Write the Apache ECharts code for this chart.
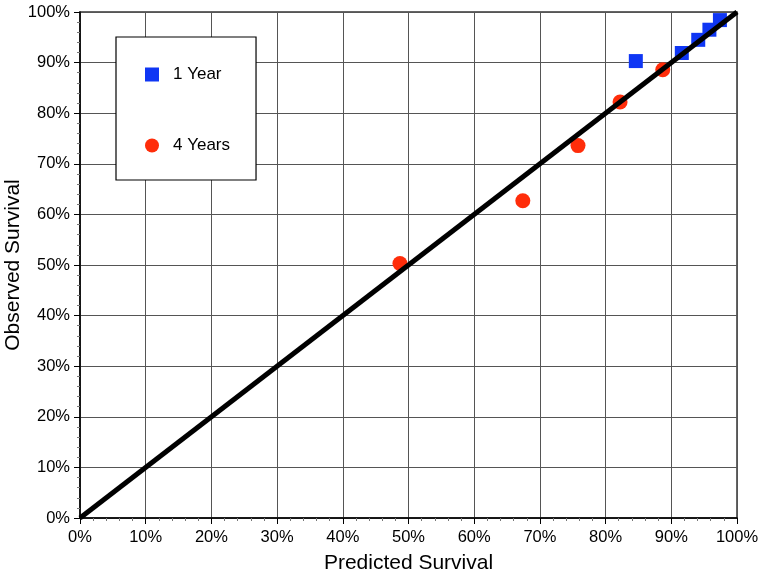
<!DOCTYPE html>
<html>
<head>
<meta charset="utf-8">
<script src="https://cdn.jsdelivr.net/npm/echarts@6/dist/echarts.min.js"></script>
<style>html,body{margin:0;padding:0;background:#fff;}#c{width:764px;height:575px;}</style>
</head>
<body>
<div id="c"></div>
<script>
var oneYear = [[84.6, 90.3], [91.6, 91.9], [94.1, 94.5], [95.8, 96.5], [97.4, 98.4]];
var fourYears = [[48.7, 50.3], [67.4, 62.7], [75.8, 73.6], [82.2, 82.2], [88.7, 88.6]];
var identity = [[0, 0], [100, 100]];
var seriesNames = ['1 Year', '4 Years'];
var xTitle = 'Predicted Survival';
var yTitle = 'Observed Survival';

var font = 'Liberation Sans, Arial, Helvetica, sans-serif';
function axis(name, gap, labelMargin) {
  return {
    type: 'value', min: 0, max: 100, interval: 10,
    name: name, nameLocation: 'middle', nameGap: gap, nameMoveOverlap: false,
    nameTextStyle: {fontSize: 21, color: '#000', fontFamily: font},
    axisLine: {show: true, lineStyle: {color: '#000', width: 1.5}},
    axisTick: {show: true, length: 6, lineStyle: {color: '#000', width: 1}},
    minorTick: {show: true, splitNumber: 5, length: 3, lineStyle: {color: '#777', width: 1}},
    axisLabel: {formatter: '{value}%', fontSize: 16.5, color: '#000', fontFamily: font, margin: labelMargin},
    splitLine: {show: true, lineStyle: {color: '#555', width: 1}}
  };
}
var chart = echarts.init(document.getElementById('c'));
chart.setOption({
  backgroundColor: '#fff',
  animation: false,
  grid: {left: 80, right: 27, top: 12, bottom: 57, containLabel: false, outerBoundsMode: 'none',
         show: true, borderColor: '#333', borderWidth: 1.5},
  xAxis: axis(xTitle, 35, 11),
  yAxis: axis(yTitle, 56, 10),
  legend: {
    data: seriesNames,
    orient: 'vertical', left: 116, top: 37,
    padding: [29, 26, 26, 29],
    itemWidth: 14, itemHeight: 14, itemGap: 54,
    borderColor: '#000', borderWidth: 1.2, backgroundColor: '#fff',
    textStyle: {fontSize: 17, color: '#000', fontFamily: font, padding: [0, 0, 0, 9]}
  },
  series: [
    {name: seriesNames[0], type: 'scatter', symbol: 'rect', symbolSize: 14,
     itemStyle: {color: '#0f36f4', opacity: 1}, data: oneYear, z: 2},
    {name: seriesNames[1], type: 'scatter', symbol: 'circle', symbolSize: 15,
     itemStyle: {color: '#ff2d0a', opacity: 1}, data: fourYears, z: 2},
    {name: 'identity', type: 'line', data: identity, symbol: 'none', z: 3,
     lineStyle: {color: '#000', width: 5}}
  ]
});
</script>
</body>
</html>
